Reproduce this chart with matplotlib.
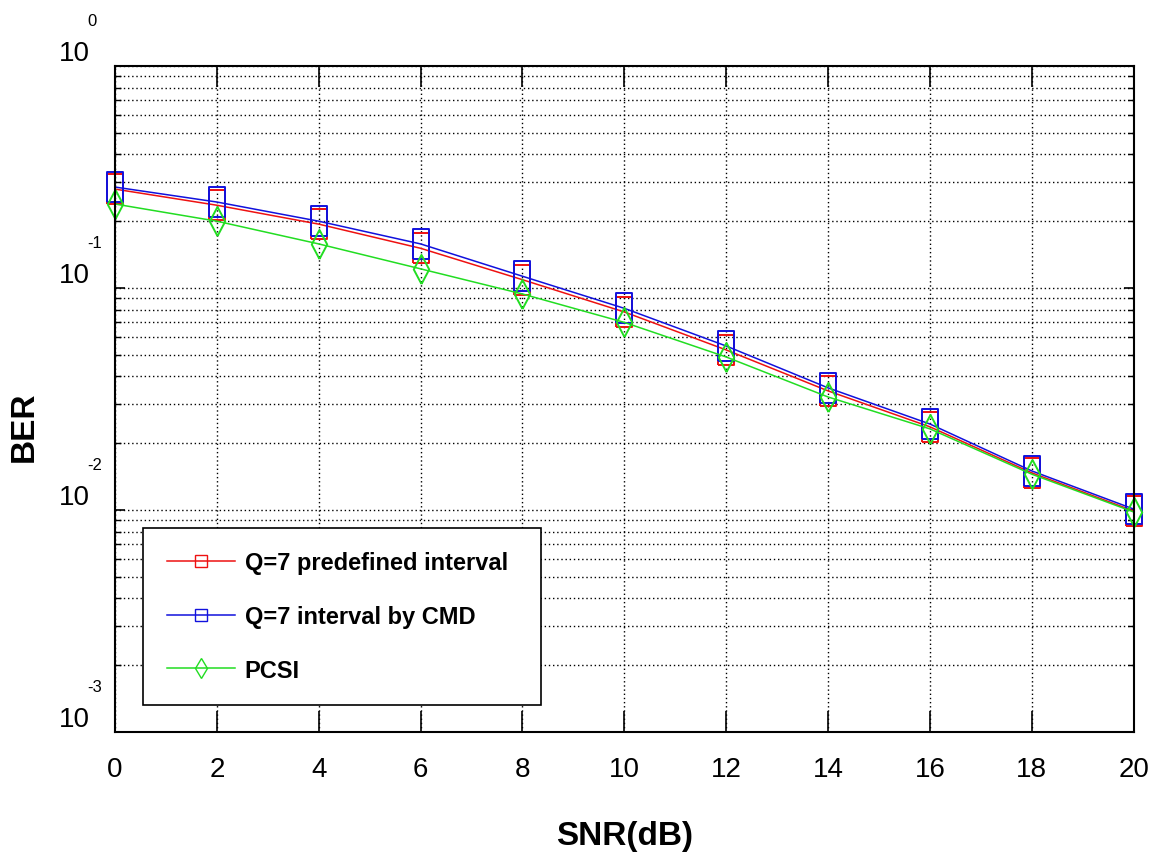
import matplotlib
matplotlib.use("Agg")
import matplotlib.pyplot as plt
from matplotlib.lines import Line2D
from matplotlib.ticker import LogLocator, NullFormatter

plt.rcParams['font.family'] = ['Liberation Sans', 'DejaVu Sans']

# data
snr = [0, 2, 4, 6, 8, 10, 12, 14, 16, 18, 20]
ber_predefined = [0.279, 0.236, 0.194, 0.151, 0.109, 0.078, 0.0526, 0.0344, 0.0237, 0.0147, 0.0099]
ber_cmd = [0.285, 0.244, 0.200, 0.158, 0.113, 0.081, 0.0548, 0.0355, 0.0244, 0.0150, 0.0101]
ber_pcsi = [0.239, 0.200, 0.158, 0.122, 0.094, 0.070, 0.0489, 0.0323, 0.0232, 0.0145, 0.0098]
labels = ['Q=7 predefined interval', 'Q=7 interval by CMD', 'PCSI']
ytick_vals = [1e-3, 1e-2, 1e-1, 1e0]
ytick_exps = ['-3', '-2', '-1', '0']

# tall markers like the original
rect = [(-0.53, -1), (0.53, -1), (0.53, 1), (-0.53, 1), (-0.53, -1)]
diam = [(0, -1), (0.53, 0), (0, 1), (-0.53, 0), (0, -1)]

fig = plt.figure(figsize=(11.55, 8.54), dpi=100)
ax = fig.add_axes([0.0996, 0.1417, 0.8819, 0.7798])

ax.plot(snr, ber_predefined, color='#ee1111', lw=1.1, marker=rect, ms=21,
        mfc='none', mec='#ee1111', mew=1.4, clip_on=False)
ax.plot(snr, ber_cmd, color='#1111dd', lw=1.1, marker=rect, ms=21,
        mfc='none', mec='#1111dd', mew=1.4, clip_on=False)
ax.plot(snr, ber_pcsi, color='#22dd22', lw=1.1, marker=diam, ms=21,
        mfc='none', mec='#22dd22', mew=1.4, clip_on=False)

ax.set_yscale('log')
ax.set_xlim(0, 20)
ax.set_ylim(1e-3, 1)
ax.set_xticks(snr)
ax.set_xticklabels([str(v) for v in snr])
ax.yaxis.set_minor_locator(LogLocator(base=10, subs=range(2, 10), numticks=40))
ax.yaxis.set_minor_formatter(NullFormatter())
ax.set_yticks(ytick_vals)
ax.set_yticklabels(['10'] * len(ytick_vals), va='bottom')

for v, e in zip(ytick_vals, ytick_exps):
    ax.annotate(e, xy=(0, v), xycoords=('axes fraction', 'data'),
                xytext=(-28, 38), textcoords='offset pixels',
                ha='left', va='bottom', fontsize=12)

ax.grid(True, which='major', color='black', linestyle=(0, (1, 2)), lw=1.0)
ax.grid(True, which='minor', axis='y', color='black', linestyle=(0, (1, 2)), lw=1.0)

ax.tick_params(axis='x', which='major', direction='in', length=15, width=1.2,
               top=True, labelsize=20, pad=17)
ax.tick_params(axis='y', which='major', direction='in', length=7, width=1.2,
               right=True, labelsize=20, pad=18)
ax.tick_params(axis='y', which='minor', direction='in', length=4, width=1.0,
               right=True)
for s in ax.spines.values():
    s.set_linewidth(1.5)

ax.set_xlabel('SNR(dB)', fontsize=24, fontweight='bold', labelpad=28)
ax.set_ylabel('BER', fontsize=24, fontweight='bold')
ax.yaxis.set_label_coords(-0.074, 0.46)

handles = [
    Line2D([], [], color='#ee1111', lw=1.1, marker='s', ms=8, mfc='none', mec='#ee1111'),
    Line2D([], [], color='#1111dd', lw=1.1, marker='s', ms=8, mfc='none', mec='#1111dd'),
    Line2D([], [], color='#22dd22', lw=1.1, marker='d', ms=10, mfc='none', mec='#22dd22'),
]
leg = ax.legend(handles, labels, loc='lower left',
                bbox_to_anchor=(0.0275, 0.04, 0.391, 0.2), mode='expand',
                borderaxespad=0, prop={'size': 17, 'weight': 'bold'},
                handlelength=2.9, handletextpad=0.4, labelspacing=1.3,
                borderpad=1.0, fancybox=False, framealpha=1, edgecolor='black')
leg.get_frame().set_linewidth(1.2)

fig.savefig('out.png', dpi=100)
